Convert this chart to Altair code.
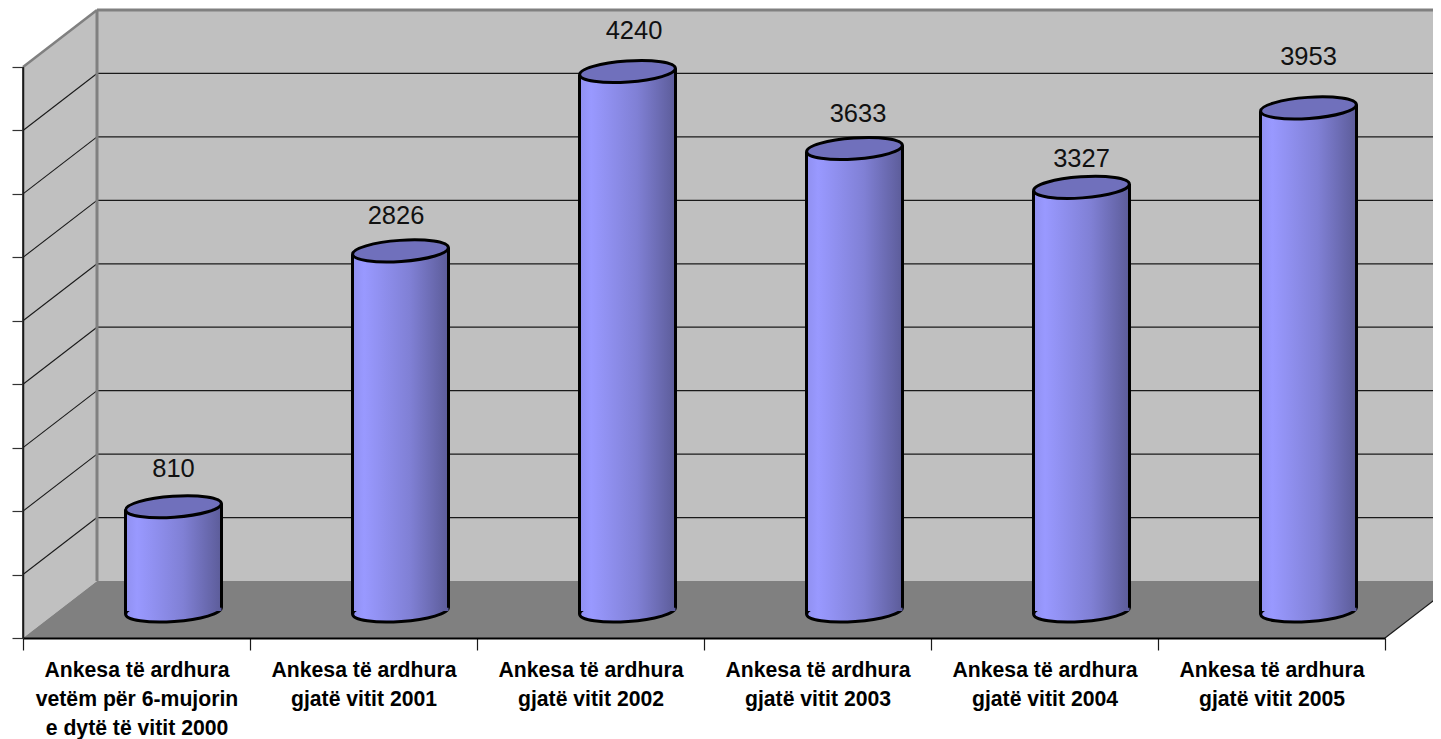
import altair as alt
import pandas as pd

categories = [
    "Ankesa të ardhura|vetëm për 6-mujorin|e dytë të vitit 2000",
    "Ankesa të ardhura|gjatë vitit 2001",
    "Ankesa të ardhura|gjatë vitit 2002",
    "Ankesa të ardhura|gjatë vitit 2003",
    "Ankesa të ardhura|gjatë vitit 2004",
    "Ankesa të ardhura|gjatë vitit 2005",
]
values = [810, 2826, 4240, 3633, 3327, 3953]
grid_values = [500, 1000, 1500, 2000, 2500, 3000, 3500, 4000, 4500]

# Layout of the pseudo-3D box
W, H = 1362, 571
Y_MAX = 4500
N = len(categories)
DEPTH_X = 74 / (W / N)          # box depth in category units
DEPTH_Y = 57 / (H / Y_MAX)      # box depth in value units
MID_DX, MID_DY = 37, -28.5      # cylinders stand mid-depth
BASE_DY = MID_DY + 1.5
CYL_W = 96
TILT = 356
TIP = 3.3
ELLIPSE = "M-1,0A1,0.22,0,1,1,1,0A1,0.22,0,1,1,-1,0Z"
BODY = alt.Gradient(
    gradient="linear", x1=0, x2=1, y1=0, y2=0,
    stops=[
        alt.GradientStop(color="#9090F0", offset=0),
        alt.GradientStop(color="#9999FF", offset=0.12),
        alt.GradientStop(color="#8080D5", offset=0.6),
        alt.GradientStop(color="#5C5C99", offset=1),
    ],
)
# How far each value label sits from its cylinder top, as in the reference
LABEL_NUDGE = [(0, -38), (-4.5, -35), (6.5, -40), (3.5, -34.5), (0, -28), (0, -51)]

df = pd.DataFrame({"cat": categories, "value": values, "zero": [0] * N})

xq = alt.X("x:Q", scale=alt.Scale(domain=[0, N]), axis=None)
yq = alt.Y("y:Q", scale=alt.Scale(domain=[0, Y_MAX], nice=False), axis=None)
x2q = alt.X2("x2:Q")
y2q = alt.Y2("y2:Q")


def polygon(xs, tops, bottoms, color):
    d = pd.DataFrame({"x": xs, "y": tops, "y2": bottoms})
    return alt.Chart(d).mark_area(color=color, opacity=1, interpolate="linear").encode(x=xq, y=yq, y2=y2q)


def polyline(xs, ys, color, w):
    d = pd.DataFrame({"x": xs, "y": ys})
    return alt.Chart(d).mark_line(color=color, strokeWidth=w).encode(x=xq, y=yq)


side_wall = polygon([0, DEPTH_X], [Y_MAX, Y_MAX + DEPTH_Y], [0, DEPTH_Y], "#C0C0C0")
back_wall = polygon([DEPTH_X, N + DEPTH_X], [Y_MAX + DEPTH_Y] * 2, [DEPTH_Y] * 2, "#C0C0C0")
floor = polygon(
    [0, DEPTH_X, N, N + DEPTH_X],
    [0, DEPTH_Y, DEPTH_Y, DEPTH_Y],
    [0, 0, 0, DEPTH_Y],
    "#808080",
)

back_grid = alt.Chart(pd.DataFrame({
    "x": [DEPTH_X] * len(grid_values[:-1]),
    "x2": [N + DEPTH_X] * len(grid_values[:-1]),
    "y": [v + DEPTH_Y for v in grid_values[:-1]],
})).mark_rule(color="#1a1a1a", strokeWidth=1.2).encode(x=xq, x2=x2q, y=yq)

side_rows = []
for v in grid_values[:-1]:
    side_rows += [{"v": v, "x": 0, "y": v}, {"v": v, "x": DEPTH_X, "y": v + DEPTH_Y}]
side_grid = alt.Chart(pd.DataFrame(side_rows)).mark_line(color="#1a1a1a", strokeWidth=1.1).encode(
    x=xq, y=yq, detail="v:N"
)

edge_top_back = polyline([DEPTH_X, N + DEPTH_X], [Y_MAX + DEPTH_Y] * 2, "#808080", 3)
edge_top_side = polyline([0, DEPTH_X], [Y_MAX, Y_MAX + DEPTH_Y], "#808080", 2.5)
edge_corner = polyline([DEPTH_X, DEPTH_X], [DEPTH_Y, Y_MAX + DEPTH_Y], "#808080", 3)
edge_floor = polyline([N, N + DEPTH_X], [0, DEPTH_Y], "#1a1a1a", 1.2)
edge_front = polyline([0, 0], [0, Y_MAX], "#1a1a1a", 1.6)

axis_layer = alt.Chart(df).mark_bar(opacity=0).encode(
    x=alt.X(
        "cat:N", sort=None,
        scale=alt.Scale(paddingInner=0, paddingOuter=0),
        axis=alt.Axis(
            title=None, labelAngle=0, labelAlign="center", labelBaseline="top",
            labelExpr="datum.value ? split(datum.value, '|') : ''", labelFont="Liberation Sans",
            labelFontWeight="bold", labelFontSize=21.2, labelLineHeight=29,
            labelColor="#000000", labelPadding=9, labelLimit=0, labelOverlap=False,
            tickBand="extent", tickSize=12, tickColor="#1a1a1a", tickWidth=1.2,
            domainColor="#000000", domainWidth=2, grid=False, zindex=1,
        ),
    ),
    y=alt.Y(
        "value:Q", scale=alt.Scale(domain=[0, Y_MAX], nice=False),
        axis=alt.Axis(
            title=None, labels=False, values=[0] + grid_values, tickSize=11,
            tickColor="#333333", tickWidth=1.2, domainColor="#1a1a1a", domainWidth=1.5,
            grid=False, zindex=1,
        ),
    ),
)

xn = alt.X("cat:N", sort=None, scale=alt.Scale(paddingInner=0, paddingOuter=0), axis=None)
yv = alt.Y("value:Q", scale=alt.Scale(domain=[0, Y_MAX], nice=False), axis=None)
yz = alt.Y("zero:Q", scale=alt.Scale(domain=[0, Y_MAX], nice=False), axis=None)

base_ellipse = alt.Chart(df).mark_point(
    shape=ELLIPSE, size=CYL_W ** 2, angle=TILT, filled=True, fill=BODY, opacity=1,
    stroke="#000000", strokeWidth=3, xOffset=MID_DX, yOffset=BASE_DY,
).encode(x=xn, y=yz)

body = alt.Chart(df).mark_bar(
    width=CYL_W, fill=BODY, opacity=1, xOffset=MID_DX, x2Offset=MID_DX,
    yOffset=MID_DY, y2Offset=BASE_DY,
).encode(x=xn, y=yv, y2=alt.Y2("zero:Q"))

left_edge = alt.Chart(df).mark_rule(
    color="#000000", strokeWidth=3, xOffset=MID_DX - CYL_W / 2,
    yOffset=MID_DY + TIP, y2Offset=BASE_DY + TIP,
).encode(x=xn, y=yv, y2=alt.Y2("zero:Q"))

right_edge = alt.Chart(df).mark_rule(
    color="#000000", strokeWidth=3, xOffset=MID_DX + CYL_W / 2,
    yOffset=MID_DY - TIP, y2Offset=BASE_DY - TIP,
).encode(x=xn, y=yv, y2=alt.Y2("zero:Q"))

top_ellipse = alt.Chart(df).mark_point(
    shape=ELLIPSE, size=CYL_W ** 2, angle=TILT, filled=True, fill="#7070BC", opacity=1,
    stroke="#000000", strokeWidth=3, xOffset=MID_DX, yOffset=MID_DY,
).encode(x=xn, y=yv)

labels = [
    alt.Chart(df.iloc[[i]]).mark_text(
        font="Liberation Sans", fontSize=25.5, color="#111111", baseline="middle",
        align="center", xOffset=MID_DX + nx, yOffset=MID_DY + ny,
    ).encode(
        x=alt.X("cat:N", sort=None, scale=alt.Scale(domain=categories, paddingInner=0, paddingOuter=0), axis=None),
        y=yv, text=alt.Text("value:Q", format="d"),
    )
    for i, (nx, ny) in enumerate(LABEL_NUDGE)
]

chart = alt.layer(
    side_wall, back_wall, floor, back_grid, side_grid,
    edge_top_side, edge_top_back, edge_corner, edge_floor, edge_front,
    axis_layer, base_ellipse, body, left_edge, right_edge, top_ellipse, *labels,
).resolve_scale(x="independent").resolve_axis(y="independent").properties(
    width=W, height=H,
    autosize=alt.AutoSizeParams(type="none"),
    padding={"left": 15, "top": 59, "right": 48, "bottom": 101},
    background="#ffffff",
).configure_view(stroke=None)

chart.save("out.html", embed_options={"renderer": "svg", "actions": False})
